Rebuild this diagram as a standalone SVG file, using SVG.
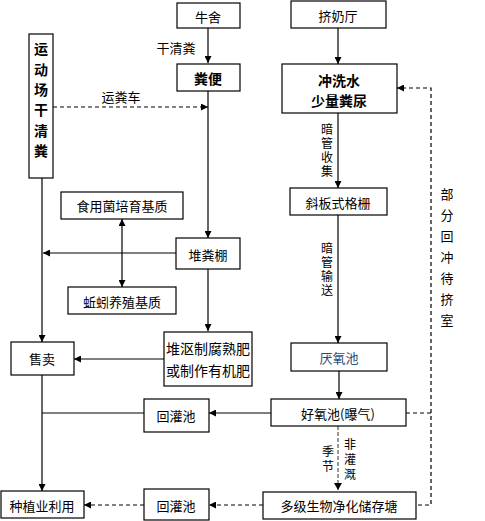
<svg xmlns="http://www.w3.org/2000/svg" width="485" height="521" viewBox="0 0 485 521">
<defs>
<marker id="ah" viewBox="0 0 8 8" refX="8" refY="4" markerWidth="7" markerHeight="7" markerUnits="userSpaceOnUse" orient="auto-start-reverse">
<path d="M0,0 L8,4 L0,8 Z" fill="#000"/>
</marker>
<style>
rect{fill:#fff;stroke:#000;stroke-width:1.2}
text{font-family:"Noto Sans CJK SC","Noto Sans",sans-serif;font-size:13px;fill:#000;text-anchor:middle;dominant-baseline:central}
.b{font-weight:bold;font-size:14px}
.vt{writing-mode:vertical-rl;text-orientation:upright;font-size:12px;letter-spacing:2px}
.ln{fill:none;stroke:#000;stroke-width:1.2}
.ds{fill:none;stroke:#000;stroke-width:1.2;stroke-dasharray:4,3}
.gd{fill:none;stroke:#999;stroke-width:2;stroke-dasharray:4,2}
</style>
</defs>

<g id="connectors">
<path class="ln" d="M208,28 V63" marker-end="url(#ah)"/>
<path class="ds" d="M53,107 H208" marker-end="url(#ah)"/>
<path class="ln" d="M208,91 V238" marker-end="url(#ah)"/>
<path class="ln" d="M338,28 V64" marker-end="url(#ah)"/>
<path class="ln" d="M338,113 V188" marker-end="url(#ah)"/>
<path class="ds" d="M431,413 V88 H397" marker-end="url(#ah)"/>
<path class="ln" d="M176,253 H43" marker-end="url(#ah)"/>
<path class="ln" d="M122,219 V287" marker-start="url(#ah)" marker-end="url(#ah)"/>
<path class="ln" d="M42,178 V342" marker-end="url(#ah)"/>
<path class="ln" d="M208,269 V331" marker-end="url(#ah)"/>
<path class="ln" d="M164,359 H74" marker-end="url(#ah)"/>
<path class="ln" d="M338,215 V343" marker-end="url(#ah)"/>
<path class="ln" d="M339,371 V399" marker-end="url(#ah)"/>
<path class="ds" d="M406,413 H431 V505 H416"/>
<path class="gd" d="M338,426 V490"/>
<path d="M334,483 L338,490 L342,483 Z" fill="#000"/>
<path class="ln" d="M271,413 H209" marker-end="url(#ah)"/>
<path class="ln" d="M144,413 H42"/>
<path class="ln" d="M42,375 V491" marker-end="url(#ah)"/>
<path class="ds" d="M263,505 H209" marker-end="url(#ah)"/>
<path class="ds" d="M144,505 H84" marker-end="url(#ah)"/>
</g>

<text x="176" y="47">干清粪</text>
<text x="121" y="96">运粪车</text>
<text class="vt" x="327" y="151">暗管收集</text>
<text class="vt" x="327" y="270">暗管输送</text>
<text class="vt" x="447" y="261" style="font-size:13px;letter-spacing:8px">部分回冲待挤室</text>
<text class="vt" x="328" y="460" style="letter-spacing:3px">季节</text>
<text class="vt" x="350" y="461" style="letter-spacing:3px">非灌溉</text>

<g id="niushe"><rect x="177" y="3" width="63" height="25"/><text x="208" y="16">牛舍</text></g>
<g id="jinaiting"><rect x="291" y="1" width="95" height="27"/><text x="338" y="15">挤奶厅</text></g>
<g id="fenbian"><rect x="177" y="64" width="63" height="27"/><text class="b" x="208" y="78">粪便</text></g>
<g id="yundongchang"><rect x="29" y="34" width="24" height="144"/>
<text class="b" x="41" y="103" style="writing-mode:vertical-rl;text-orientation:upright;letter-spacing:6.4px">运动场干清粪</text></g>
<g id="chongxishui"><rect x="282" y="64" width="115" height="49"/><text class="b" x="339" y="80">冲洗水</text><text class="b" x="339" y="100">少量粪尿</text></g>
<g id="xiebanshi"><rect x="290" y="188" width="97" height="27"/><text x="338" y="202">斜板式格栅</text></g>
<g id="shiyongjun"><rect x="61" y="192" width="122" height="27"/><text x="122" y="205">食用菌培育基质</text></g>
<g id="duifenpeng"><rect x="176" y="238" width="64" height="31"/><text x="208" y="254">堆粪棚</text></g>
<g id="qiuyin"><rect x="68" y="287" width="108" height="27"/><text x="122" y="301">蚯蚓养殖基质</text></g>
<g id="shoumai"><rect x="11" y="342" width="63" height="33"/><text x="42" y="358">售卖</text></g>
<g id="duiou"><rect x="164" y="332" width="88" height="54"/><text x="208" y="348" style="font-size:14px">堆沤制腐熟肥</text><text x="208" y="370" style="font-size:14px">或制作有机肥</text></g>
<g id="yanyangchi"><rect x="291" y="343" width="96" height="28"/><text x="339" y="357" style="fill:#1F4E79">厌氧池</text></g>
<g id="haoyangchi"><rect x="271" y="399" width="135" height="27"/><text x="338" y="413">好氧池(曝气)</text></g>
<g id="huiguanchi1"><rect x="144" y="399" width="65" height="33"/><text x="176" y="415">回灌池</text></g>
<g id="duoji"><rect x="263" y="492" width="153" height="27"/><text x="339" y="505">多级生物净化储存塘</text></g>
<g id="huiguanchi2"><rect x="144" y="489" width="65" height="31"/><text x="176" y="505">回灌池</text></g>
<g id="zhongzhi"><rect x="1" y="491" width="83" height="27"/><text x="42" y="505">种植业利用</text></g>
</svg>
